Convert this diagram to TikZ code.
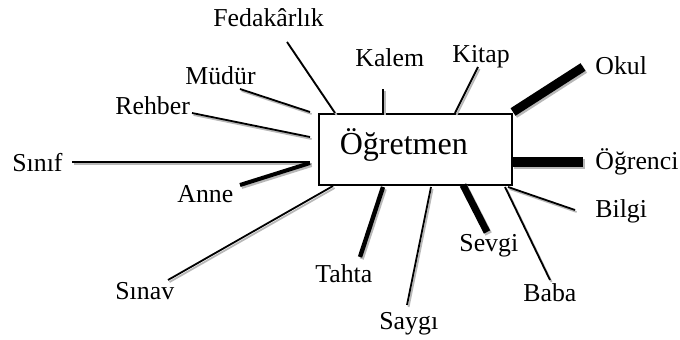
\documentclass[tikz,border=0pt]{standalone}
\usepackage{fontspec}
\setmainfont{Liberation Serif}
\usetikzlibrary{positioning}
\tikzset{word/.style={inner sep=0pt,anchor=base west,font=\fontsize{12.9}{15}\selectfont}}
\tikzset{spoke/.style={line width=#1,preaction={draw=black!28,line width=#1,transform canvas={shift={(0.8pt,-1pt)}}}}}

\begin{document}
\begin{tikzpicture}[x=0.5pt,y=-0.5pt]
\useasboundingbox (0,0) rectangle (680,340);
\node [draw,line width=0.8pt,anchor=north west,inner xsep=10.5pt,inner ysep=0pt,
       text width=75.5pt,align=left,text height=20.5pt,text depth=15pt,
       font=\fontsize{16}{19}\selectfont] (ogretmen) at (318,113) {Öğretmen};

% words round the box
\node [word] (fedakarlik) at (213,27) {Fedakârlık};
\node [word] (mudur) at (185,85) {Müdür};
\node [word] (rehber) at (115,115) {Rehber};
\node [word] (sinif) at (12,172) {Sınıf};
\node [word] (anne) at (177,203) {Anne};
\node [word] (sinav) at (115,300) {Sınav};
\node [word] (tahta) at (315,283) {Tahta};
\node [word] (saygi) at (379,330) {Saygı};
\node [word] (sevgi) at (459,252) {Sevgi};
\node [word] (baba) at (523,302) {Baba};
\node [word] (bilgi) at (595,218) {Bilgi};
\node [word] (ogrenci) at (595,170) {Öğrenci};
\node [word] (okul) at (595,75) {Okul};
\node [word] (kitap) at (452,63) {Kitap};
\node [word] (kalem) at (355,67) {Kalem};

% ends of the spokes
\coordinate (fedakarlik-in) at (335,113);  \coordinate (fedakarlik-out) at (287,42);
\coordinate (mudur-in) at (310,112);       \coordinate (mudur-out) at (240,89);
\coordinate (rehber-in) at (310,137);      \coordinate (rehber-out) at (192,113);
\coordinate (sinif-in) at (310,162);       \coordinate (sinif-out) at (72,162);
\coordinate (anne-in) at (310,163);        \coordinate (anne-out) at (240,185);
\coordinate (sinav-in) at (333,186);       \coordinate (sinav-out) at (168,280);
\coordinate (tahta-in) at (383,187);       \coordinate (tahta-out) at (360,257);
\coordinate (saygi-in) at (431,187);       \coordinate (saygi-out) at (407,305);
\coordinate (sevgi-in) at (463,185);       \coordinate (sevgi-out) at (487,232);
\coordinate (baba-in) at (505,187);        \coordinate (baba-out) at (550,280);
\coordinate (bilgi-in) at (508,187);       \coordinate (bilgi-out) at (575,210);
\coordinate (ogrenci-in) at (512,162);     \coordinate (ogrenci-out) at (583,162);
\coordinate (okul-in) at (513,112);        \coordinate (okul-out) at (583,67);
\coordinate (kitap-in) at (455,113);       \coordinate (kitap-out) at (478,67);
\coordinate (kalem-in) at (383,113);       \coordinate (kalem-out) at (383,89);

\draw [spoke=0.9pt] (fedakarlik-in) -- (fedakarlik-out);
\draw [spoke=0.9pt] (mudur-in) -- (mudur-out);
\draw [spoke=0.9pt] (rehber-in) -- (rehber-out);
\draw [spoke=1.3pt] (sinif-in) -- (sinif-out);
\draw [spoke=2pt] (anne-in) -- (anne-out);
\draw [spoke=0.9pt] (sinav-in) -- (sinav-out);
\draw [spoke=2.2pt] (tahta-in) -- (tahta-out);
\draw [spoke=0.9pt] (saygi-in) -- (saygi-out);
\draw [spoke=3.5pt] (sevgi-in) -- (sevgi-out);
\draw [spoke=0.9pt] (baba-in) -- (baba-out);
\draw [spoke=0.9pt] (bilgi-in) -- (bilgi-out);
\draw [spoke=5pt] (ogrenci-in) -- (ogrenci-out);
\draw [spoke=4.5pt] (okul-in) -- (okul-out);
\draw [spoke=0.9pt] (kitap-in) -- (kitap-out);
\draw [spoke=1pt] (kalem-in) -- (kalem-out);
\end{tikzpicture}
\end{document}
